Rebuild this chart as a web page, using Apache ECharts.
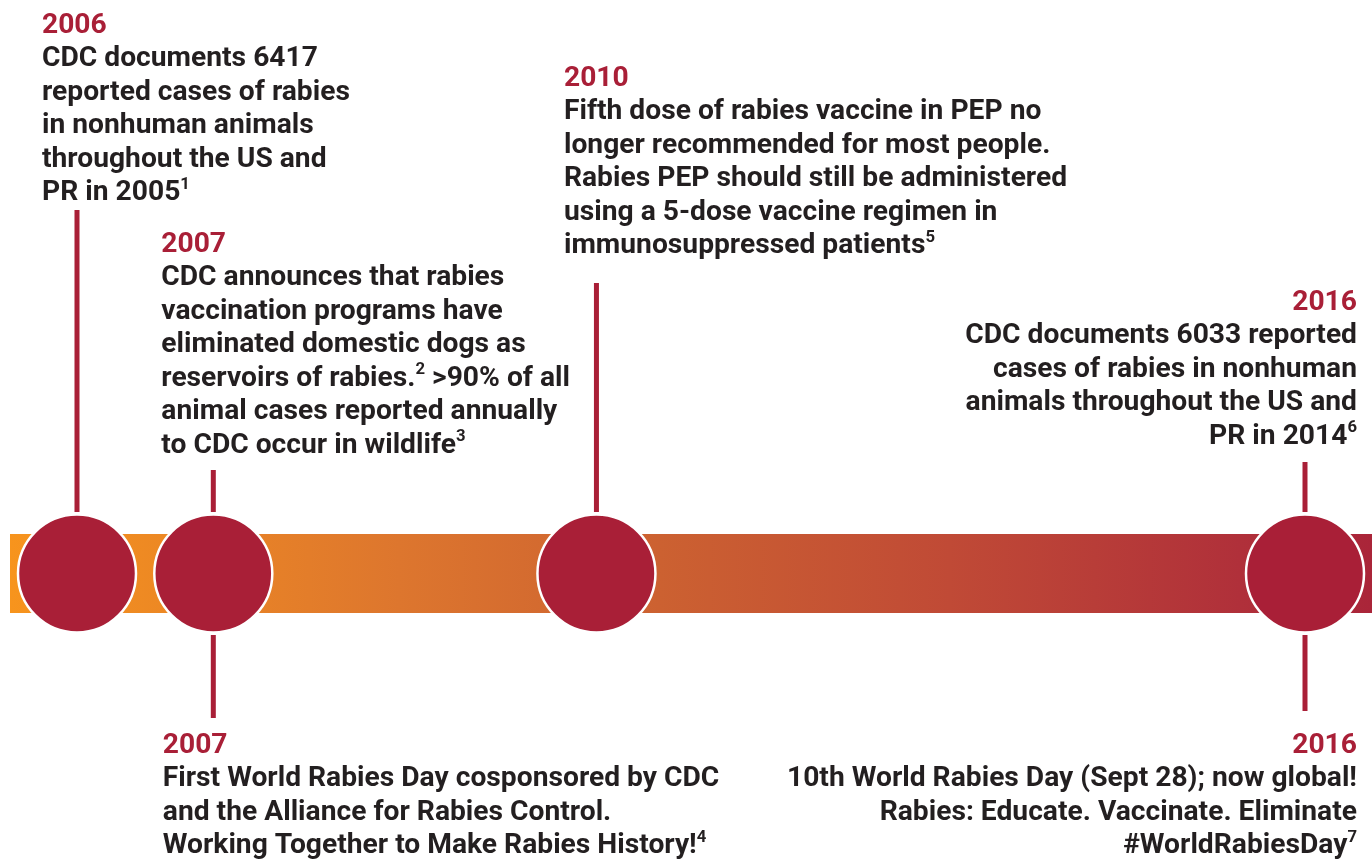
<!DOCTYPE html>
<html>
<head>
<meta charset="utf-8">
<script src="https://cdn.jsdelivr.net/npm/echarts@6/dist/echarts.min.js"></script>
<style>
html,body{margin:0;padding:0;background:#ffffff;}
#chart{width:1372px;height:861px;}
</style>
</head>
<body>
<div id="chart"></div>
<script>
// ---------------- DATA ----------------
// Timeline markers (circles) and their position along the timeline (in years)
const markerYears = ['2006', '2007', '2010', '2016'];
const markerPositions = [2006.0, 2007.11, 2010.23, 2016.0];

// Events attached to the markers
const eventYears = ['2006', '2007', '2010', '2016', '2007', '2016'];
const eventMarker = [0, 1, 2, 3, 1, 3];
const eventSide = ['top', 'top', 'top', 'top', 'bottom', 'bottom'];
const eventTexts = [
  ['CDC documents 6417', 'reported cases of rabies', 'in nonhuman animals', 'throughout the US and', 'PR in 2005^1'],
  ['CDC announces that rabies', 'vaccination programs have', 'eliminated domestic dogs as', 'reservoirs of rabies.^2 >90% of all', 'animal cases reported annually', 'to CDC occur in wildlife^3'],
  ['Fifth dose of rabies vaccine in PEP no', 'longer recommended for most people.', 'Rabies PEP should still be administered', 'using a 5-dose vaccine regimen in', 'immunosuppressed patients^5'],
  ['CDC documents 6033 reported', 'cases of rabies in nonhuman', 'animals throughout the US and', 'PR in 2014^6'],
  ['First World Rabies Day cosponsored by CDC', 'and the Alliance for Rabies Control.', 'Working Together to Make Rabies History!^4'],
  ['10th World Rabies Day (Sept 28); now global!', 'Rabies: Educate. Vaccinate. Eliminate', '#WorldRabiesDay^7']
];

// ---------------- LAYOUT / STYLE ----------------
const RED = '#A91F37';
const INK = '#231F20';
const FONT = 'Roboto';
const FS = 27;
const LH = 33.5;
const TEXT_SCALE_X = 1.045;

const band = {x0: 10, y0: 534, y1: 613};
const circle = {cy: 573.5, r: 59};
const stemTopEnd = 512, stemBottomStart = 635;
const layout = [
  {stem: 210, tx: -35,   ty: 9,   align: 'left'},
  {stem: 470, tx: -52,   ty: 228, align: 'left'},
  {stem: 283, tx: -32.5, ty: 62,  align: 'left'},
  {stem: 462, tx: 52,    ty: 286, align: 'right'},
  {stem: 718, tx: -50.5, ty: 729, align: 'left'},
  {stem: 711, tx: 52,    ty: 729, align: 'right'}
];

function richText(i) {
  const body = eventTexts[i].map(l => l.replace(/\^(\d+)/g, '{sup|$1}')).join('\n');
  return '{yr|' + eventYears[i] + '}\n' + body;
}

const chart = echarts.init(document.getElementById('chart'), null, {renderer: 'canvas'});

const option = {
  animation: false,
  backgroundColor: '#ffffff',
  grid: {left: 0, right: 0, top: 0, bottom: 0},
  xAxis: {type: 'value', min: 2005.373, max: 2016.5456, show: false},
  yAxis: {type: 'value', min: 0, max: 861, inverse: true, show: false},
  series: [
    {
      // gradient band
      type: 'custom', z: 1,
      data: [[markerPositions[0], markerPositions[markerPositions.length - 1]]],
      renderItem: function (params, api) {
        const left = api.coord([2005.373, band.y0]);
        const right = api.coord([2016.5456, band.y1]);
        const x0 = left[0] + band.x0;
        return {
          type: 'rect',
          shape: {x: x0, y: left[1], width: right[0] - x0, height: right[1] - left[1]},
          style: {
            fill: new echarts.graphic.LinearGradient(0, 0, 1, 0, [
              {offset: 0, color: '#F7941D'},
              {offset: 0.286, color: '#DD762E'},
              {offset: 0.477, color: '#CC6131'},
              {offset: 0.69, color: '#C04A36'},
              {offset: 0.903, color: '#B0303A'},
              {offset: 1, color: '#AA2539'}
            ])
          },
          silent: true
        };
      }
    },
    {
      // stems
      type: 'custom', z: 2,
      data: eventMarker.map((m, i) => [markerPositions[m], i]),
      renderItem: function (params, api) {
        const i = api.value(1);
        const L = layout[i];
        const top = eventSide[i] === 'top';
        const a = api.coord([api.value(0), top ? L.stem : stemBottomStart]);
        const b = api.coord([api.value(0), top ? stemTopEnd : L.stem]);
        return {
          type: 'rect',
          shape: {x: a[0] - 2.5, y: a[1], width: 5, height: b[1] - a[1]},
          style: {fill: RED},
          silent: true
        };
      }
    },
    {
      // circles
      type: 'custom', z: 3,
      data: markerPositions.map((p, i) => [p, i]),
      renderItem: function (params, api) {
        const c = api.coord([api.value(0), circle.cy]);
        return {
          type: 'circle',
          shape: {cx: c[0], cy: c[1], r: circle.r},
          style: {fill: RED, stroke: '#ffffff', lineWidth: 2.5},
          silent: true
        };
      }
    },
    {
      // texts
      type: 'custom', z: 4,
      data: eventMarker.map((m, i) => [markerPositions[m], i]),
      renderItem: function (params, api) {
        const i = api.value(1);
        const L = layout[i];
        const p = api.coord([api.value(0), L.ty]);
        return {
          type: 'text',
          x: p[0] + L.tx, y: p[1],
          scaleX: TEXT_SCALE_X, scaleY: 1, originX: 0, originY: 0,
          silent: true,
          style: {
            text: richText(i),
            x: 0, y: 0,
            align: L.align, verticalAlign: 'top',
            fill: INK,
            fontFamily: FONT, fontSize: FS, fontWeight: 'bold',
            lineHeight: LH,
            rich: {
              yr: {fill: RED, fontFamily: FONT, fontSize: FS, fontWeight: 'bold', lineHeight: LH},
              sup: {fill: INK, fontFamily: FONT, fontSize: 16, fontWeight: 'bold', lineHeight: 30, verticalAlign: 'top'}
            }
          }
        };
      }
    }
  ]
};
chart.setOption(option);
</script>
</body>
</html>
